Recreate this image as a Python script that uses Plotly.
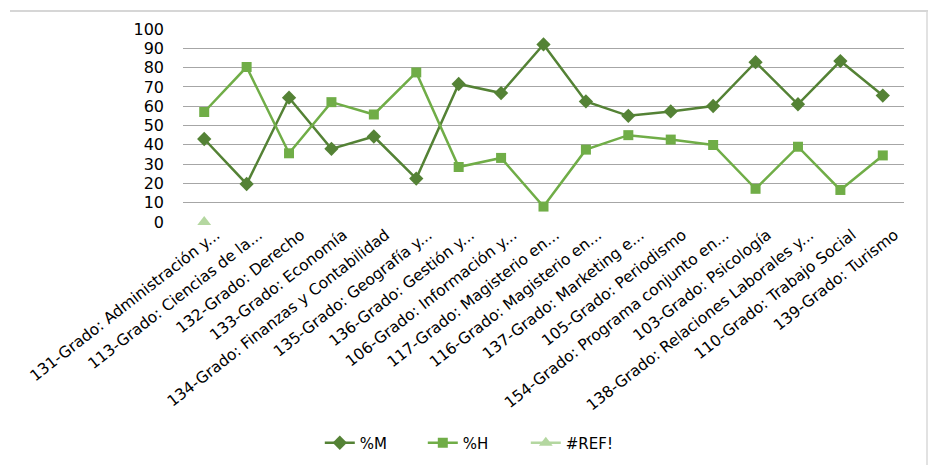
import plotly.graph_objects as go

categories = [
    "131-Grado: Administración y...",
    "113-Grado: Ciencias de la...",
    "132-Grado: Derecho",
    "133-Grado: Economía",
    "134-Grado: Finanzas y Contabilidad",
    "135-Grado: Geografía y...",
    "136-Grado: Gestión y...",
    "106-Grado: Información y...",
    "117-Grado: Magisterio en...",
    "116-Grado: Magisterio en...",
    "137-Grado: Marketing e...",
    "105-Grado: Periodismo",
    "154-Grado: Programa conjunto en...",
    "103-Grado: Psicología",
    "138-Grado: Relaciones Laborales y...",
    "110-Grado: Trabajo Social",
    "139-Grado: Turismo",
]
pct_m = [43.0, 19.7, 64.4, 37.9, 44.3, 22.5, 71.5, 66.8, 92.0, 62.5, 55.0, 57.3, 60.1, 82.8, 61.0, 83.4, 65.5]
pct_h = [57.0, 80.3, 35.6, 62.1, 55.7, 77.5, 28.5, 33.2, 8.0, 37.5, 45.0, 42.7, 39.9, 17.2, 39.0, 16.6, 34.5]
ref_vals = [0]
y_ticks = [0, 10, 20, 30, 40, 50, 60, 70, 80, 90, 100]

W, H = 930, 465
L, R, T, B = 183, 26, 29, 243
pw, ph = W - L - R, H - T - B

fig = go.Figure()
fig.add_trace(go.Scatter(
    x=categories, y=pct_m, name="%M", mode="lines+markers",
    line=dict(color="#548235", width=2.5),
    marker=dict(symbol="diamond", size=11, color="#548235"),
))
fig.add_trace(go.Scatter(
    x=categories, y=pct_h, name="%H", mode="lines+markers",
    line=dict(color="#70AD47", width=2.5),
    marker=dict(symbol="square", size=10, color="#70AD47"),
))
fig.add_trace(go.Scatter(
    x=categories[:1], y=ref_vals, name="#REF!", mode="lines+markers",
    line=dict(color="#B4D7A0", width=2.5),
    marker=dict(symbol="triangle-up", size=12, color="#B4D7A0"),
    cliponaxis=False,
))

def px_x(v):
    return (v - L) / pw

def px_y(v):
    return (H - B - v) / ph

fig.update_layout(
    width=W, height=H,
    margin=dict(l=L, r=R, t=T, b=B, pad=0),
    paper_bgcolor="white", plot_bgcolor="white",
    font=dict(family="DejaVu Sans", color="#000000"),
    showlegend=True,
    legend=dict(
        orientation="h", xref="container", yref="container",
        x=0.51, xanchor="center", y=1 - 443 / H, yanchor="middle",
        font=dict(size=15), tracegroupgap=0, entrywidth=58,
    ),
    xaxis=dict(
        type="category", tickangle=-38, tickfont=dict(size=15.5),
        showgrid=False, showline=False, ticks="", zeroline=False,
        range=[-0.5, len(categories) - 0.5], automargin=False,
        ticklabelshift=12,
    ),
    yaxis=dict(
        range=[0, 100], tickvals=y_ticks, tickfont=dict(size=16),
        showgrid=True, gridcolor="#A6A6A6", gridwidth=1,
        zeroline=False, showline=False, ticks="", ticklabelstandoff=18,
        automargin=False,
    ),
    shapes=[
        dict(type="line", xref="paper", yref="paper",
             x0=px_x(10), x1=px_x(928), y0=px_y(11), y1=px_y(11),
             line=dict(color="#C8C8C8", width=1.5)),
        dict(type="line", xref="paper", yref="paper",
             x0=px_x(927), x1=px_x(927), y0=px_y(11), y1=px_y(465),
             line=dict(color="#D9D9D9", width=1.5)),
    ],
)

fig.write_html(
    "out.html",
    config={"displayModeBar": False},
    post_script="document.body.style.margin='0px';",
)
